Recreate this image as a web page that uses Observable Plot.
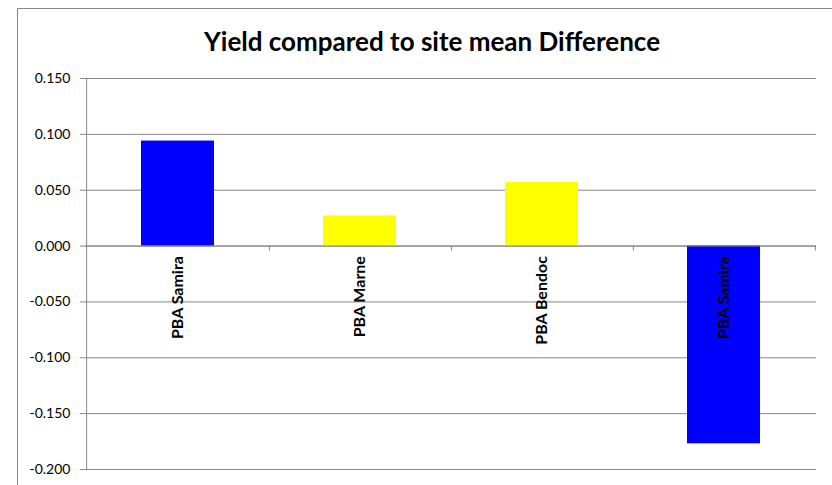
<!DOCTYPE html>
<html>
<head>
<meta charset="utf-8">
<script src="https://cdn.jsdelivr.net/npm/d3@7"></script>
<script src="https://cdn.jsdelivr.net/npm/@observablehq/plot@0.6"></script>
<style>
  html, body { margin: 0; padding: 0; background: #fff; overflow: hidden; }
  #wrap { position: relative; width: 832px; height: 485px; overflow: hidden; font-family: Lato, "Open Sans", sans-serif; }
  #frame { position: absolute; left: 0; top: 0; pointer-events: none; }
  #title { position: relative; box-sizing: border-box; width: 832px; height: 60px; padding-top: 26px; padding-left: 32px; text-align: center; font-size: 26px; line-height: 30px; font-weight: bold; color: #000; white-space: nowrap; }
  #chart { position: relative; width: 832px; }
  #chart svg { display: block; }
</style>
</head>
<body>
<div id="wrap">
  <svg id="frame" width="832" height="485"><path d="M17.5,485V8.5H832" fill="none" stroke="#868686" stroke-width="1"/></svg>
  <div id="title">Yield compared to site mean Difference</div>
  <div id="chart"></div>
</div>
<script>
const categories = ["PBA Samira", "PBA Marne", "PBA Bendoc", "PBA Samira"];
const values = [0.094, 0.027, 0.057, -0.177];
const barColors = ["#0000FF", "#FFFF00", "#FFFF00", "#0000FF"];
const yTicks = [-0.2, -0.15, -0.1, -0.05, 0, 0.05, 0.1, 0.15];

const data = categories.map((c, i) => ({i, label: c, value: values[i], color: barColors[i]}));
const idx = categories.map((c, i) => i);

const W = 832, mL = 85, mR = 16;
const step = (W - mL - mR) / categories.length;
const grey = "#868686";
const fmt = d => d.toFixed(3);

const chart = Plot.plot({
  width: W,
  height: 425,
  marginLeft: mL,
  marginRight: mR,
  marginTop: 18,
  marginBottom: 16,
  style: {fontFamily: "Lato, 'Open Sans', sans-serif", fontSize: "14px", color: "#000", background: "transparent"},
  x: {domain: idx, paddingInner: 0.6, paddingOuter: 0.3, axis: null},
  y: {domain: [-0.2, 0.15], axis: null},
  color: {type: "identity"},
  marks: [
    Plot.gridY(yTicks, {stroke: grey, strokeOpacity: 1, strokeWidth: 1}),
    Plot.axisY(yTicks, {tickSize: 5, tickPadding: 10, tickFormat: fmt, stroke: grey, fill: "#000", fontSize: 14, label: null}),
    Plot.ruleX([0], {x: d => d, dx: -step / 2, stroke: grey}),
    Plot.barY(data, {x: "i", y: "value", fill: "color"}),
    Plot.ruleY([0], {stroke: grey}),
    Plot.ruleX(idx, {x: d => d, y1: 0, y2: 0, insetBottom: -5, dx: step / 2, stroke: grey}),
    Plot.text(data, {x: "i", y: 0, text: "label", rotate: -90, textAnchor: "end", lineAnchor: "middle", dy: 10, fontWeight: "bold", fontSize: 16, fill: "#000"})
  ]
});
document.getElementById("chart").appendChild(chart);
</script>
</body>
</html>
